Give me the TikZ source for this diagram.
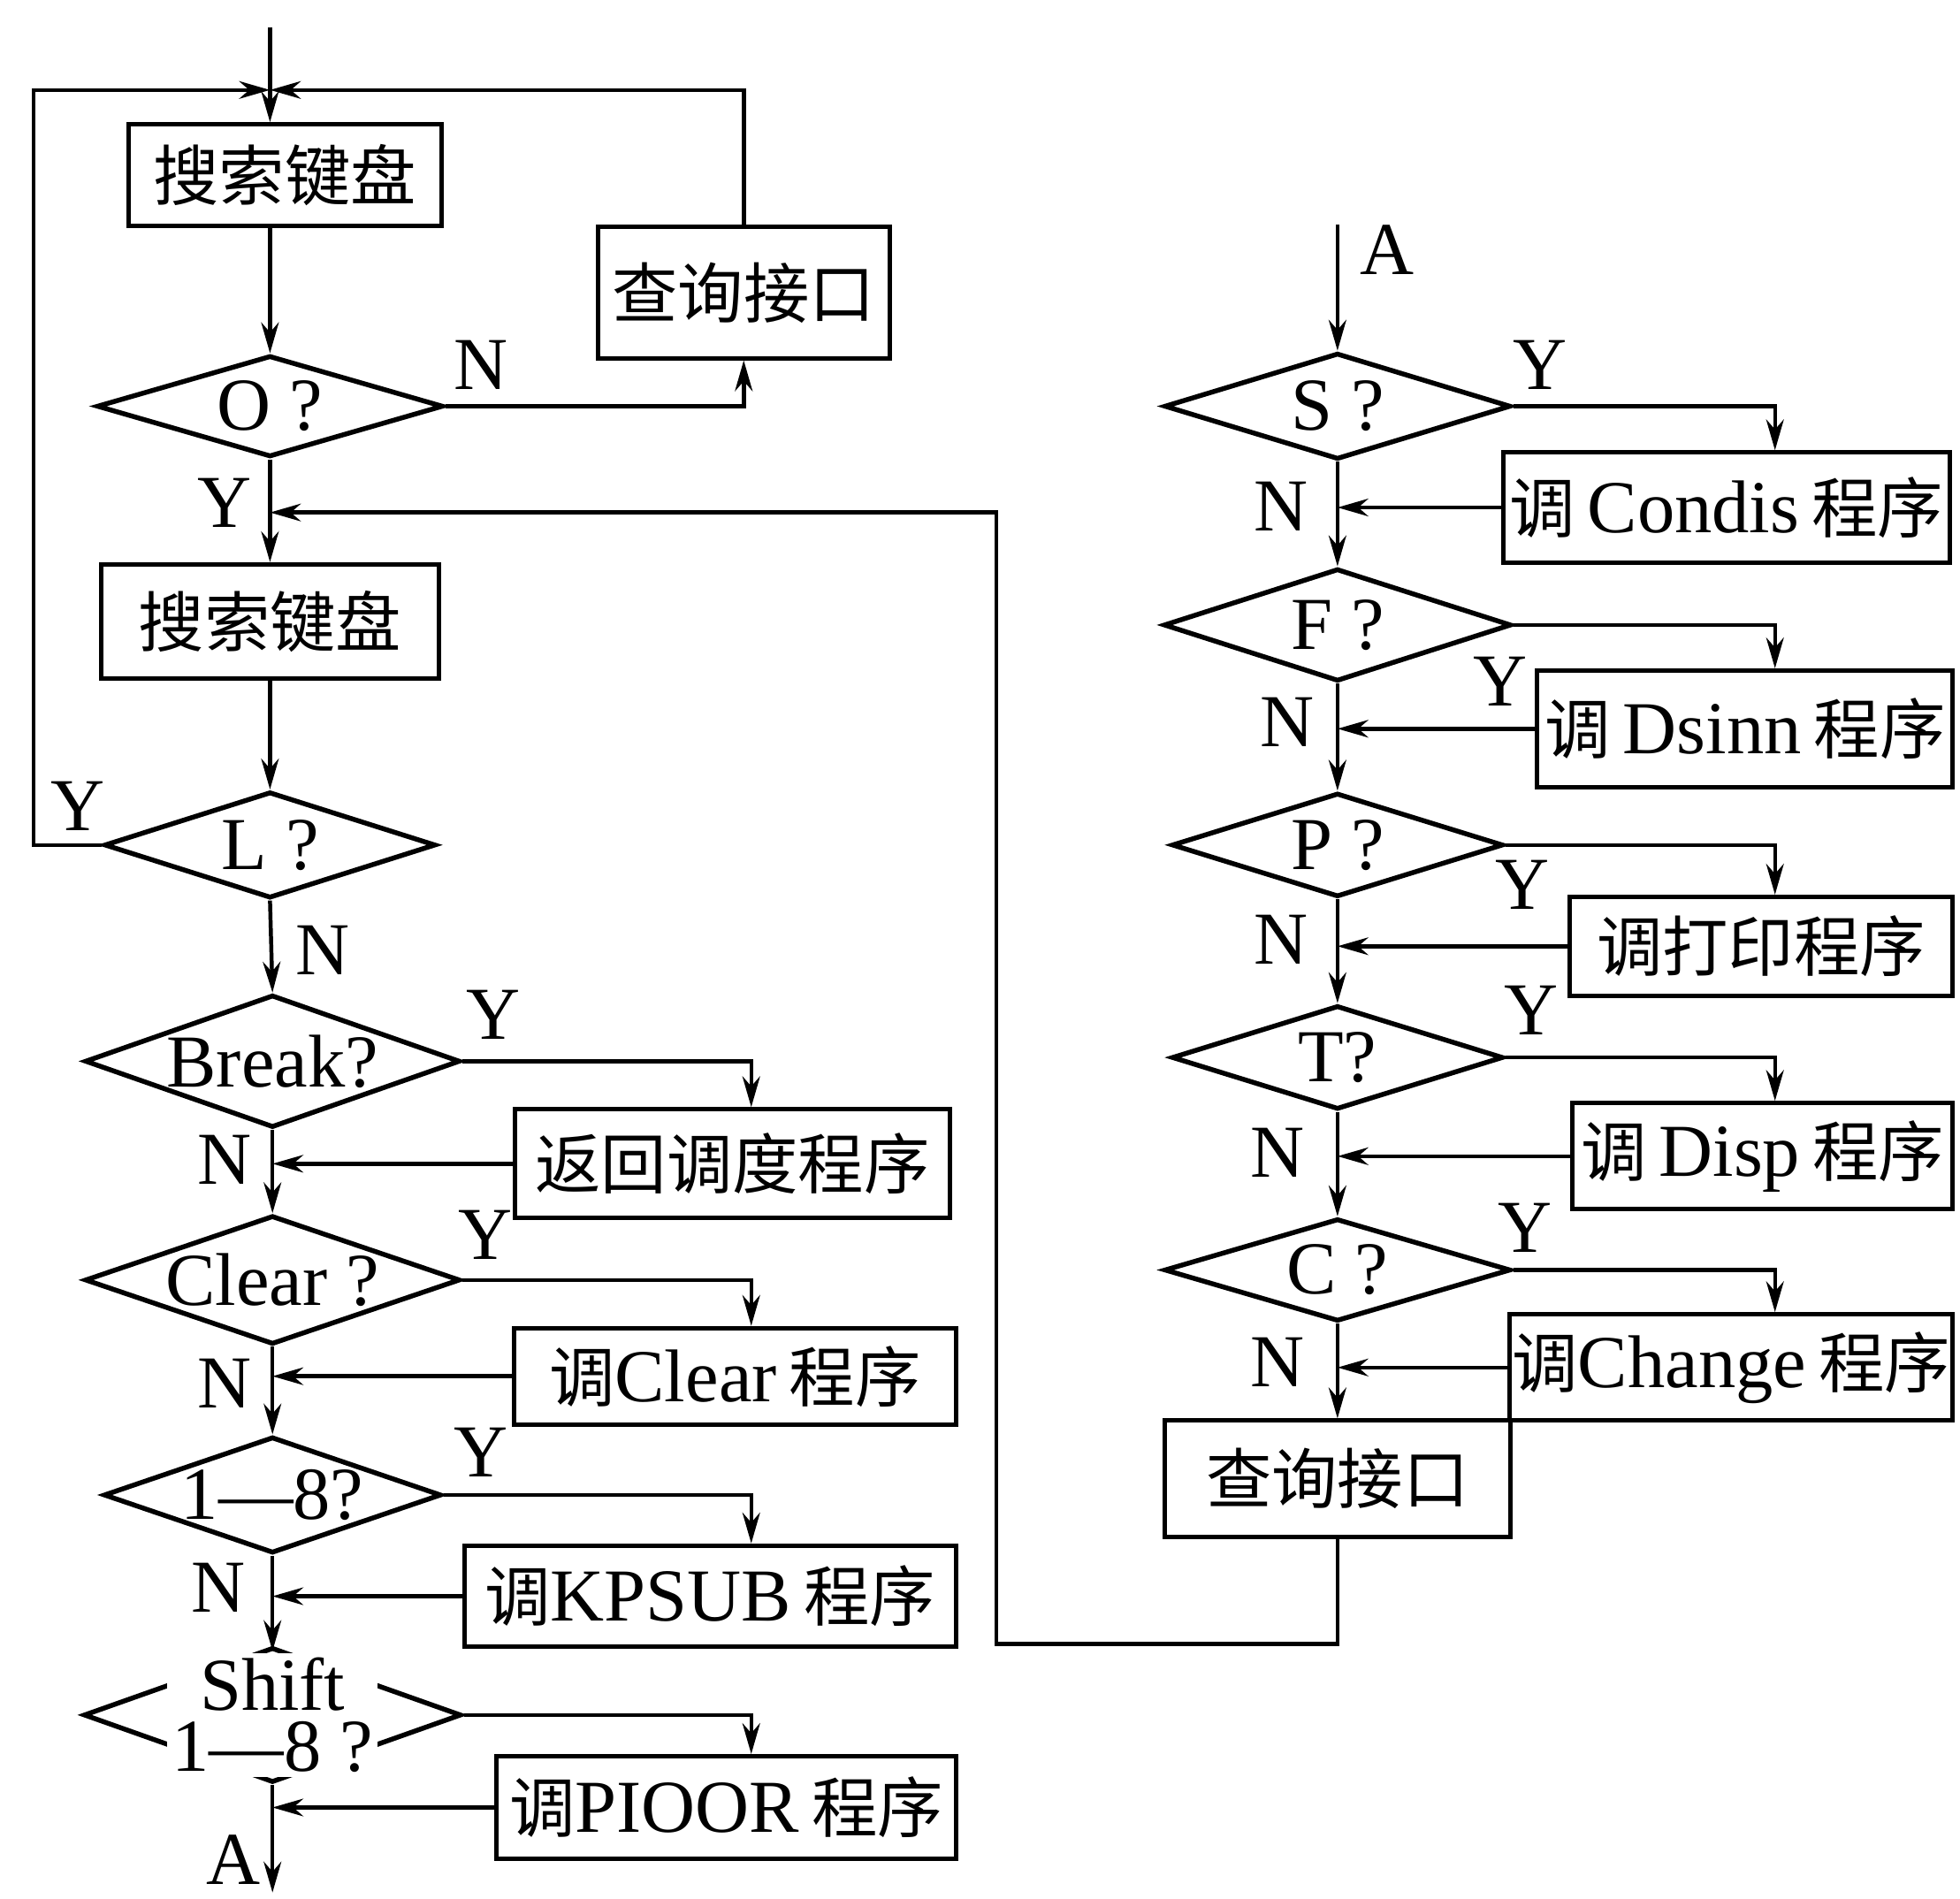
\documentclass[tikz,border=0pt]{standalone}
\usepackage{fontspec}
\setmainfont{Liberation Serif}
\newfontfamily\cjkfont[Scale=0.88]{Noto Sans CJK SC}
\newcommand{\zh}[1]{{\cjkfont #1}}
\usetikzlibrary{arrows.meta,positioning,shapes.geometric}

\begin{document}
\begin{tikzpicture}[x=0.01cm, y=-0.01cm, line width=0.9pt,
    every node/.style={font=\fontsize{17}{19}\selectfont},
    proc/.style={draw, line width=1pt, inner sep=0pt},
    decision/.style={draw, diamond, line width=1.1pt, inner sep=0pt},
    arr/.style={-{Stealth[length=7pt,width=4pt]}},
    lab/.style={inner sep=0pt}]
  \useasboundingbox (0,0) rectangle (1568,1519);
  % Left column: scan loop
  \node[proc, minimum width=2.5cm, minimum height=0.81cm] (k1) at (228,140) {\zh{搜索键盘}};
  \node[proc, minimum width=2.33cm, minimum height=1.05cm] (qa) at (595,234) {\zh{查询接口}};
  \node[decision, minimum width=2.77cm, minimum height=0.81cm, label=center:{O ?}] (o) at (216,325) {};
  \node[proc, minimum width=2.7cm, minimum height=0.91cm] (k2) at (216,497) {\zh{搜索键盘}};
  \node[decision, minimum width=2.65cm, minimum height=0.85cm, label=center:{L ?}] (l) at (216,676) {};
  % Left column: key tests
  \node[decision, minimum width=3.0cm, minimum height=1.06cm, label=center:{Break?}] (brk) at (218,849) {};
  \node[decision, minimum width=3.0cm, minimum height=1.03cm, label=center:{Clear ?}] (clr) at (218,1024) {};
  \node[decision, minimum width=2.7cm, minimum height=0.93cm, label=center:{1—8?}] (r18) at (218,1196) {};
  \node[decision, minimum width=3.02cm, minimum height=1.08cm,
    label={[name=shl, fill=white, inner sep=1pt, align=center]center:{Shift\\[-5pt]1—8 ?}}] (sh) at (218,1372) {};
  \node[proc, minimum width=3.48cm, minimum height=0.87cm] (b1) at (586,931) {\zh{返回调度程序}};
  \node[proc, minimum width=3.53cm, minimum height=0.77cm] (b2) at (588,1101) {\zh{调}Clear\,\zh{程序}};
  \node[proc, minimum width=3.93cm, minimum height=0.81cm] (b3) at (568,1277) {\zh{调}KPSUB\,\zh{程序}};
  \node[proc, minimum width=3.67cm, minimum height=0.82cm] (b4) at (581,1446) {\zh{调}PIOOR\,\zh{程序}};
  % Right column
  \node[decision, minimum width=2.77cm, minimum height=0.85cm, label=center:{S ?}] (s) at (1070,325) {};
  \node[decision, minimum width=2.78cm, minimum height=0.9cm, label=center:{F ?}] (f) at (1070,500) {};
  \node[decision, minimum width=2.65cm, minimum height=0.83cm, label=center:{P ?}] (p) at (1070,676) {};
  \node[decision, minimum width=2.65cm, minimum height=0.83cm, label=center:{T?}] (t) at (1070,846) {};
  \node[decision, minimum width=2.77cm, minimum height=0.82cm, label=center:{C ?}] (c) at (1070,1016) {};
  \node[proc, minimum width=3.57cm, minimum height=0.88cm] (r1) at (1381,406) {\zh{调}\,Condis\,\zh{程序}};
  \node[proc, minimum width=3.32cm, minimum height=0.93cm] (r2) at (1396,583) {\zh{调}\,Dsinn\,\zh{程序}};
  \node[proc, minimum width=3.06cm, minimum height=0.79cm] (r3) at (1409,757) {\zh{调打印程序}};
  \node[proc, minimum width=3.04cm, minimum height=0.85cm] (r4) at (1410,925) {\zh{调}\,Disp\,\zh{程序}};
  \node[proc, minimum width=3.54cm, minimum height=0.85cm] (r5) at (1385,1094) {\zh{调}Change\,\zh{程序}};
  \node[proc, minimum width=2.76cm, minimum height=0.93cm] (qb) at (1070,1183) {\zh{查询接口}};
  % Branch labels
  \node[lab] (no) at (385,292) {N};
  \node[lab] (yo) at (180,402) {Y};
  \node[lab] (yl) at (62,645) {Y};
  \node[lab] (nl) at (258,760) {N};
  \node[lab] (ybrk) at (395,812) {Y};
  \node[lab] (nbrk) at (180,928) {N};
  \node[lab] (yclr) at (388,988) {Y};
  \node[lab] (nclr) at (180,1107) {N};
  \node[lab] (yr18) at (385,1162) {Y};
  \node[lab] (nr18) at (175,1270) {N};
  \node[lab] (aout) at (187,1488) {A};
  \node[lab] (ain) at (1110,200) {A};
  \node[lab] (ys) at (1232,292) {Y};
  \node[lab] (ns) at (1025,405) {N};
  \node[lab] (yf) at (1200,545) {Y};
  \node[lab] (nf) at (1030,578) {N};
  \node[lab] (yp) at (1218,708) {Y};
  \node[lab] (np) at (1025,752) {N};
  \node[lab] (yt) at (1225,808) {Y};
  \node[lab] (nt) at (1022,922) {N};
  \node[lab] (yc) at (1220,982) {Y};
  \node[lab] (nc) at (1022,1090) {N};
  % Free ends and junctions
  \coordinate (in1) at (216,22);
  \coordinate (j1) at (216,72);
  \coordinate (lp) at (27,72);
  \coordinate (j2) at (216,410);
  \coordinate (back) at (797,1315);
  \coordinate (out1) at (218,1514);
  \coordinate (in2) at (1070,180);
  \coordinate (ycoll) at (601,0);
  \coordinate (ycolr) at (1420,0);
  % Connectors, left
  \draw[arr] (in1) -- (in1 |- k1.north);
  \draw[arr] (l.west) -| (lp) -- (j1);
  \draw[arr] (qa.north) |- (j1);
  \draw[arr] (k1.south -| o.north) -- (o.north);
  \draw[arr] (o.east) -| (qa.south);
  \draw[arr] (o.south) -- (k2.north);
  \draw[arr] (qb.south) |- (back) |- (j2);
  \draw[arr] (k2.south) -- (l.north);
  \draw[arr] (l.south) -- (brk.north);
  \foreach \a/\b in {brk/clr, clr/r18}
    \draw[arr] (\a.south) -- (\b.north);
  \draw[arr] (r18.south) -- (shl.north);
  \foreach \d/\b in {brk/b1, clr/b2, r18/b3, sh/b4} {
    \draw[arr] (\d.east) -| (\b.north -| ycoll);
    \draw[arr] (\b.west) -- (\b.west -| \d.south);
  }
  \draw[arr] (shl.south |- sh.south) -- (out1);
  % Connectors, right
  \draw[arr] (in2) -- (s.north);
  \foreach \a/\b in {s/f, f/p, p/t, t/c, c/qb}
    \draw[arr] (\a.south) -- (\b.north);
  \foreach \d/\b in {s/r1, f/r2, p/r3, t/r4, c/r5} {
    \draw[arr] (\d.east) -| (\b.north -| ycolr);
    \draw[arr] (\b.west) -- (\b.west -| \d.south);
  }
\end{tikzpicture}
\end{document}
